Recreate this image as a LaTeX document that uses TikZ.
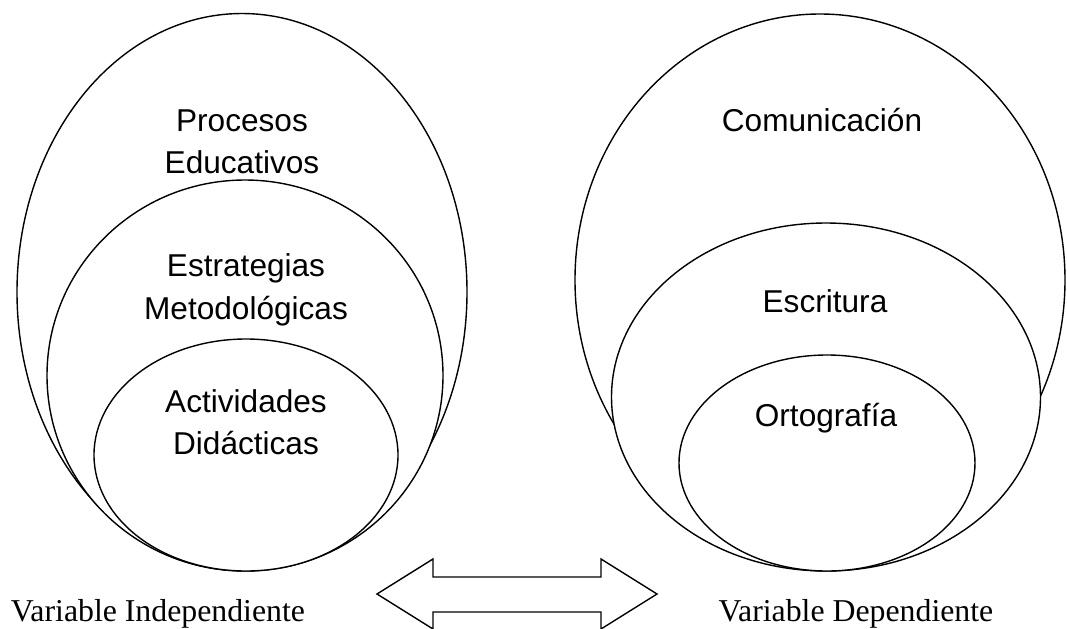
\documentclass[tikz,border=0pt]{standalone}
\usepackage{fontspec}
\setmainfont{Liberation Serif}
\newfontfamily\arialfont{Liberation Sans}
\usetikzlibrary{shapes.geometric}
\tikzset{
  ell/.style={draw, fill=white, ellipse, line width=0.7pt, inner sep=0pt, outer sep=0pt},
  lbl/.style={font=\arialfont\fontsize{15.8}{21}\selectfont, anchor=base, align=center, inner sep=0pt},
  varlbl/.style={font=\fontsize{15.9}{19}\selectfont, anchor=base, inner sep=0pt},
  arrowshape/.style={draw, line width=0.7pt, line join=miter}
}
\begin{document}
\begin{tikzpicture}[x=0.5pt, y=-0.5pt]
\useasboundingbox (0,0) rectangle (1067,628);
% left side
\node[ell, minimum width=225pt, minimum height=278.5pt] (pe) at (242,292) {};
\node[ell, minimum width=198pt, minimum height=195.5pt] (em) at (245,375.5) {};
\node[ell, minimum width=152pt, minimum height=116pt] (ad) at (246,455) {};
% right side
\node[ell, minimum width=245pt, minimum height=266pt] (co) at (820,280) {};
\node[ell, minimum width=214.5pt, minimum height=174pt] (es) at (826,397) {};
\node[ell, minimum width=148pt, minimum height=108pt] (or) at (827,463) {};
% labels
\node[lbl] (t1a) at (242,131) {Procesos};
\node[lbl] (t1b) at (242,173) {Educativos};
\node[lbl] (t2a) at (246,276) {Estrategias};
\node[lbl] (t2b) at (246,319) {Metodológicas};
\node[lbl] (t3a) at (246,412) {Actividades};
\node[lbl] (t3b) at (246,454) {Didácticas};
\node[lbl] (t4) at (822,131) {Comunicación};
\node[lbl] (t5) at (825,312) {Escritura};
\node[lbl] (t6) at (826,426) {Ortografía};
\node[varlbl] (vi) at (158,621) {Variable Independiente};
\node[varlbl] (vd) at (856,621) {Variable Dependiente};
% double block arrow
\draw[arrowshape] (377,594) -- (433,559) -- (433,577) -- (601,577) -- (601,559)
  -- (657,594) -- (601,629) -- (601,612) -- (433,612) -- (433,629) -- cycle;
\end{tikzpicture}
\end{document}
